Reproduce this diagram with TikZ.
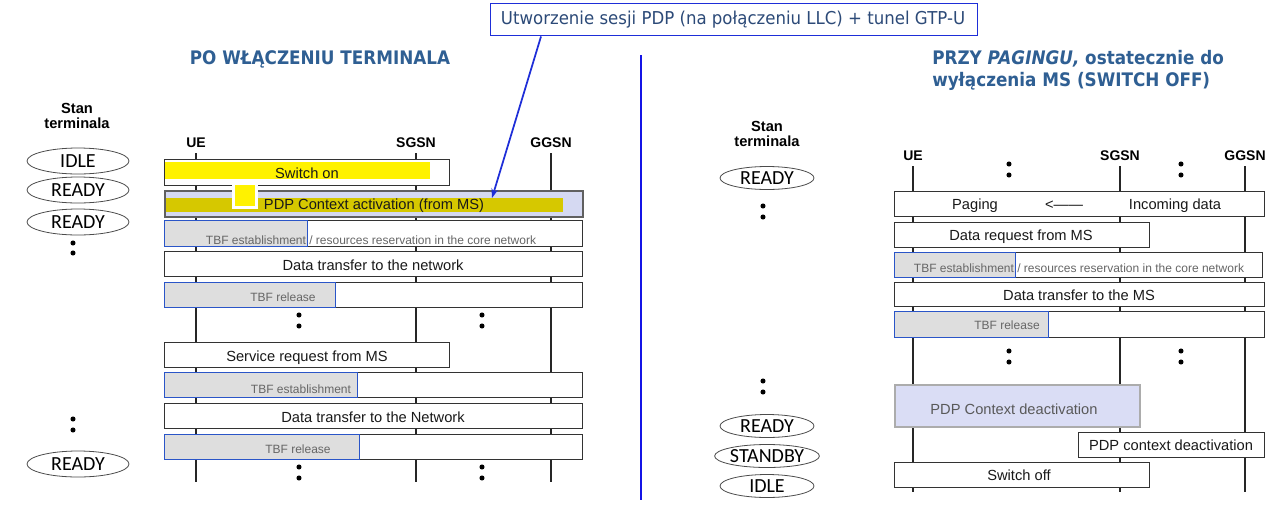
\documentclass[tikz,border=0pt]{standalone}
\usepackage{fontspec}
\setmainfont{Liberation Sans}
\newfontfamily\carl{Carlito}
\newfontfamily\dvs{DejaVu Sans}
\usetikzlibrary{shapes.geometric,arrows.meta}
\definecolor{titleblue}{HTML}{2F5F93}
\definecolor{hlyellow}{HTML}{FFF200}
\definecolor{hlolive}{HTML}{D6C800}
\definecolor{lav}{HTML}{D5D9F2}
\definecolor{lavb}{HTML}{DADDF5}
\definecolor{tbfblue}{HTML}{2A55C8}
\definecolor{callblue}{HTML}{1E2ED8}
\definecolor{calltext}{HTML}{2C4A78}
\definecolor{sepblue}{HTML}{1414E6}
\definecolor{tbfgray}{HTML}{DEDEDE}
\newcommand{\mybox}[6]{\node[#6,anchor=north west,minimum width={(#4-#2)*0.75pt},minimum height={(#5-#3)*0.75pt}] (#1) at (#2,#3) {};}
\tikzset{
  msgbox/.style={draw=black!80, line width=0.9pt, fill=white, inner sep=0, rectangle},
  tbfbox/.style={draw=tbfblue, line width=1.1pt, fill=tbfgray, inner sep=0, rectangle},
  pdpbox/.style={draw=gray!75!black, line width=1.5pt, fill=lav, inner sep=0, rectangle},
  pdpdbox/.style={draw=gray!65, line width=1.2pt, fill=lavb, inner sep=0, rectangle},
  callbox/.style={draw=callblue, line width=1.1pt, fill=white, inner sep=0, rectangle},
  btxt/.style={font=\fontsize{11}{13}\selectfont, inner sep=0, text=black!90, text height=0.92em, text depth=0pt},
  gtxt/.style={font=\fontsize{9}{11}\selectfont, inner sep=0, text=black!60, text height=0.92em, text depth=0pt},
  lbl/.style={font=\bfseries\fontsize{10.5}{12}\selectfont, inner sep=0, text height=0.72em, text depth=0pt},
  stan/.style={font=\bfseries\fontsize{11}{12.5}\selectfont, inner sep=0, align=center},
  stL/.style={ellipse, draw=black!70, line width=0.6pt, inner sep=0, minimum width=76.5pt, minimum height=19.5pt, font=\carl\fontsize{15}{15}\selectfont},
  stR/.style={ellipse, draw=black!70, line width=0.6pt, inner sep=0, minimum width=70.5pt, minimum height=17.25pt, font=\carl\fontsize{15}{15}\selectfont},
  life/.style={line width=0.8pt, black!85},
  ttl/.style={font=\dvs\bfseries\fontsize{14}{17}\selectfont, text=titleblue, inner sep=0, xscale=0.9}
}
\begin{document}
\begin{tikzpicture}[x=0.75pt,y=-0.75pt]
\useasboundingbox (0,0) rectangle (1284,508);
\fill[white] (0,0) rectangle (1284,508);

% ---------- callout ----------
\mybox{call}{490}{3}{977}{35}{callbox}
\node[font=\dvs\fontsize{13.3}{15}\selectfont, text=calltext, inner sep=0, xscale=0.935] (callt) at (733,20) {Utworzenie sesji PDP (na połączeniu LLC) + tunel GTP-U};

% ---------- separator ----------
\coordinate (septop) at (641,55);
\coordinate (sepbot) at (641,500);
\draw[sepblue, line width=2.2pt] (septop) -- (sepbot);

% ---------- left title ----------
\node[ttl] (ltitle) at (320,59) {PO WŁĄCZENIU TERMINALA};

% ---------- left states ----------
\node[stan] (lstan) at (77,116) {Stan\\[-1pt]terminala};
\node[stL] (ls1) at (78,161) {IDLE};
\node[stL] (ls2) at (78,190) {READY};
\node[stL] (ls3) at (78,222) {READY};
\node[stL] (ls4) at (78,464) {READY};
\foreach \x/\y in {73/243,73/253,73/419,73/430}{\fill (\x,\y) circle (1.9pt);}

% ---------- left lifelines ----------
\node[lbl] (lue) at (196,143) {UE};
\node[lbl] (lsg) at (416,143) {SGSN};
\node[lbl] (lgg) at (551,143) {GGSN};
\coordinate (lueb) at (196,482);
\coordinate (lsgb) at (416,482);
\coordinate (lggb) at (551,482);
\draw[life, shorten <=4pt] (lue.south) -- (lueb);
\draw[life, shorten <=4pt] (lsg.south) -- (lsgb);
\draw[life, shorten <=4pt] (lgg.south) -- (lggb);

% ---------- left boxes ----------
\mybox{b1}{164}{159}{449}{185}{msgbox}
\fill[hlyellow] (165,162) rectangle (430,179);
\node[btxt] (b1t) at (307,172) {Switch on};

\mybox{b2}{164}{190}{582}{216}{pdpbox}
\fill[hlolive] (166,198) rectangle (563,212);
\fill[white] (232,182) rectangle (258,209);
\fill[hlyellow] (235,185) rectangle (255,206);
\node[btxt] (b2t) at (374,203) {PDP Context activation (from MS)};

\mybox{b3}{164}{220}{582}{246}{msgbox}
\mybox{b3g}{164}{220}{307}{246}{tbfbox}
\node[gtxt] (b3t) at (371,238) {TBF establishment / resources reservation in the core network};

\mybox{b4}{164}{251}{582}{276}{msgbox}
\node[btxt] (b4t) at (373,264) {Data transfer to the network};

\mybox{b5}{164}{282}{582}{307}{msgbox}
\mybox{b5g}{164}{282}{335}{307}{tbfbox}
\node[gtxt] (b5t) at (283,295) {TBF release};

\foreach \x/\y in {299/315,299/326,482/315,482/326}{\fill (\x,\y) circle (1.9pt);}

\mybox{b6}{164}{342}{449}{367}{msgbox}
\node[btxt] (b6t) at (307,355) {Service request from MS};

\mybox{b7}{164}{372}{582}{397}{msgbox}
\mybox{b7g}{164}{372}{357}{397}{tbfbox}
\node[gtxt] (b7t) at (301,387) {TBF establishment};

\mybox{b8}{164}{403}{582}{428}{msgbox}
\node[btxt] (b8t) at (373,416) {Data transfer to the Network};

\mybox{b9}{164}{434}{582}{459}{msgbox}
\mybox{b9g}{164}{434}{359}{459}{tbfbox}
\node[gtxt] (b9t) at (298,447) {TBF release};

\foreach \x/\y in {299/467,299/478,482/467,482/478}{\fill (\x,\y) circle (1.9pt);}

% ---------- callout arrow ----------
\coordinate (arrtip) at (492,198);
\draw[callblue, line width=1.3pt, -{Stealth[length=7pt,width=5pt]}] ([xshift=38.25pt]call.south west) -- (arrtip);

% ---------- right title ----------
\node[ttl, anchor=west] (rt1) at (932,59) {PRZY \textit{PAGINGU,} ostatecznie do};
\node[ttl, anchor=west] (rt2) at (932,81) {wyłączenia MS (SWITCH OFF)};

% ---------- right states ----------
\node[stan] (rstan) at (767,134) {Stan\\[-1pt]terminala};
\node[stR] (rs1) at (767,178) {READY};
\node[stR] (rs2) at (767,426) {READY};
\node[stR] (rs3) at (767,456) {STANDBY};
\node[stR] (rs4) at (767,486) {IDLE};
\foreach \x/\y in {763/206,763/217,763/381,763/392}{\fill (\x,\y) circle (1.9pt);}

% ---------- right lifelines ----------
\node[lbl] (rue) at (913,156) {UE};
\node[lbl] (rsg) at (1120,156) {SGSN};
\node[lbl] (rgg) at (1245,156) {GGSN};
\coordinate (rueb) at (913,492);
\coordinate (rsgb) at (1120,492);
\coordinate (rggb) at (1245,492);
\draw[life, shorten <=4pt] (rue.south) -- (rueb);
\draw[life, shorten <=4pt] (rsg.south) -- (rsgb);
\draw[life, shorten <=4pt] (rgg.south) -- (rggb);
\foreach \x/\y in {1009/164,1009/175,1181/164,1181/175}{\fill (\x,\y) circle (1.9pt);}

% ---------- right boxes ----------
\mybox{c1}{894}{191}{1264}{216}{msgbox}
\node[btxt] (c1a) at (975,203) {Paging};
\node[btxt] (c1b) at (1064,203) {<——};
\node[btxt] (c1c) at (1175,203) {Incoming data};

\mybox{c2}{894}{222}{1149}{247}{msgbox}
\node[btxt] (c2t) at (1021,234) {Data request from MS};

\mybox{c3}{894}{252}{1262}{277}{msgbox}
\mybox{c3g}{894}{252}{1015}{277}{tbfbox}
\node[gtxt] (c3t) at (1079,266) {TBF establishment / resources reservation in the core network};

\mybox{c4}{894}{282}{1264}{306}{msgbox}
\node[btxt] (c4t) at (1079,294) {Data transfer to the MS};

\mybox{c5}{894}{311}{1264}{337}{msgbox}
\mybox{c5g}{894}{311}{1048}{337}{tbfbox}
\node[gtxt] (c5t) at (1007,323) {TBF release};

\foreach \x/\y in {1009/351,1009/362,1181/351,1181/362}{\fill (\x,\y) circle (1.9pt);}

\mybox{c6}{894}{384}{1139}{426}{pdpdbox}
\node[btxt, text=black!65] (c6t) at (1014,408) {PDP Context deactivation};

\mybox{c7}{1078}{432}{1264}{457}{msgbox}
\node[btxt] (c7t) at (1171,444) {PDP context deactivation};

\mybox{c8}{894}{462}{1149}{487}{msgbox}
\node[btxt] (c8t) at (1019,474) {Switch off};
\end{tikzpicture}
\end{document}
